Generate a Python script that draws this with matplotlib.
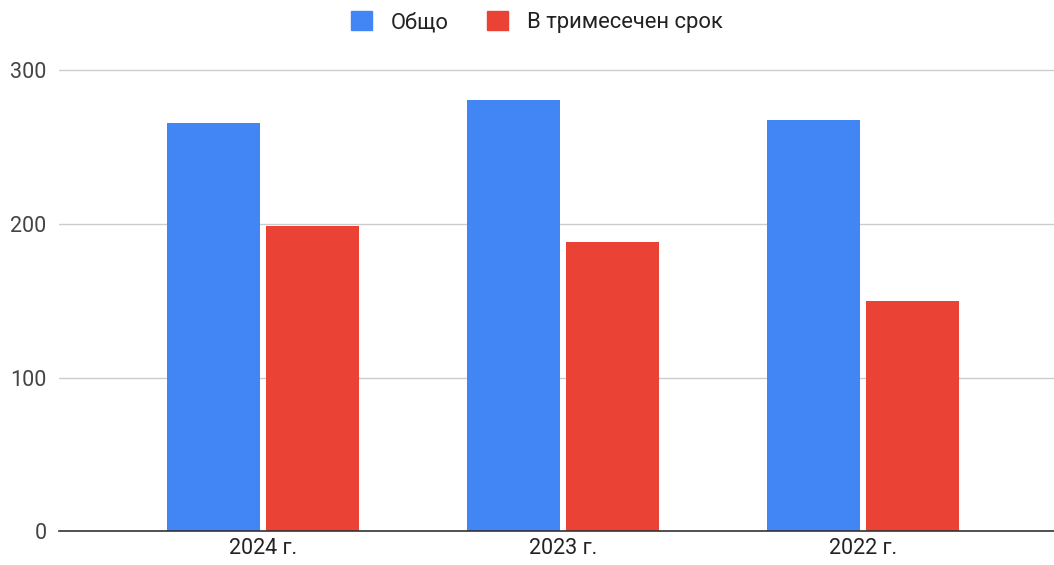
import matplotlib
matplotlib.use("Agg")
import matplotlib.pyplot as plt
import numpy as np
from matplotlib.patches import Patch

categories = ["2024 г.", "2023 г.", "2022 г."]
total = [266, 281, 268]
quarterly = [199, 188, 150]
series_names = ["Общо", "В тримесечен срок"]
yticks = [0, 100, 200, 300]

BLUE = "#4285F4"
RED = "#EA4335"

plt.rcParams['font.family'] = ['Roboto', 'DejaVu Sans']

fig = plt.figure(figsize=(10.54, 5.65), dpi=100)
ytop = 303
h_px = (531 - 70.5) * ytop / 300
ax = fig.add_axes([59/1054, 34/565, 1 - 59/1054, h_px/565])

x = np.arange(len(categories))
w = 0.31
off = 0.164
ax.bar(x - off, total, width=w, color=BLUE, zorder=3)
ax.bar(x + off, quarterly, width=w, color=RED, zorder=3)

ax.set_xlim(-0.68, 2.637)
ax.set_ylim(0, ytop)
ax.set_yticks(yticks)
ax.set_yticklabels([str(v) for v in yticks], fontsize=15.5, color="#444444")
ax.set_xticks(x)
ax.set_xticklabels(categories, fontsize=15.5, color="#222222")
ax.tick_params(axis='both', length=0)
ax.tick_params(axis='y', pad=9)
ax.tick_params(axis='x', pad=5)
ax.grid(axis='y', color="#cccccc", linewidth=1, zorder=0)
ax.set_axisbelow(True)
for s in ['top', 'right', 'left']:
    ax.spines[s].set_visible(False)
ax.spines['bottom'].set_color("#333333")
ax.spines['bottom'].set_linewidth(1.2)
ax.spines['bottom'].set_zorder(4)

handles = [Patch(color=BLUE), Patch(color=RED)]
fig.legend(handles, series_names, loc='center', bbox_to_anchor=(537/1054, 1 - 22/565),
           ncol=2, frameon=False, fontsize=15.8, handlelength=0.95, handleheight=1.0,
           handletextpad=0.85, columnspacing=1.75, labelcolor="#222222")

fig.savefig("out.png", dpi=100)
